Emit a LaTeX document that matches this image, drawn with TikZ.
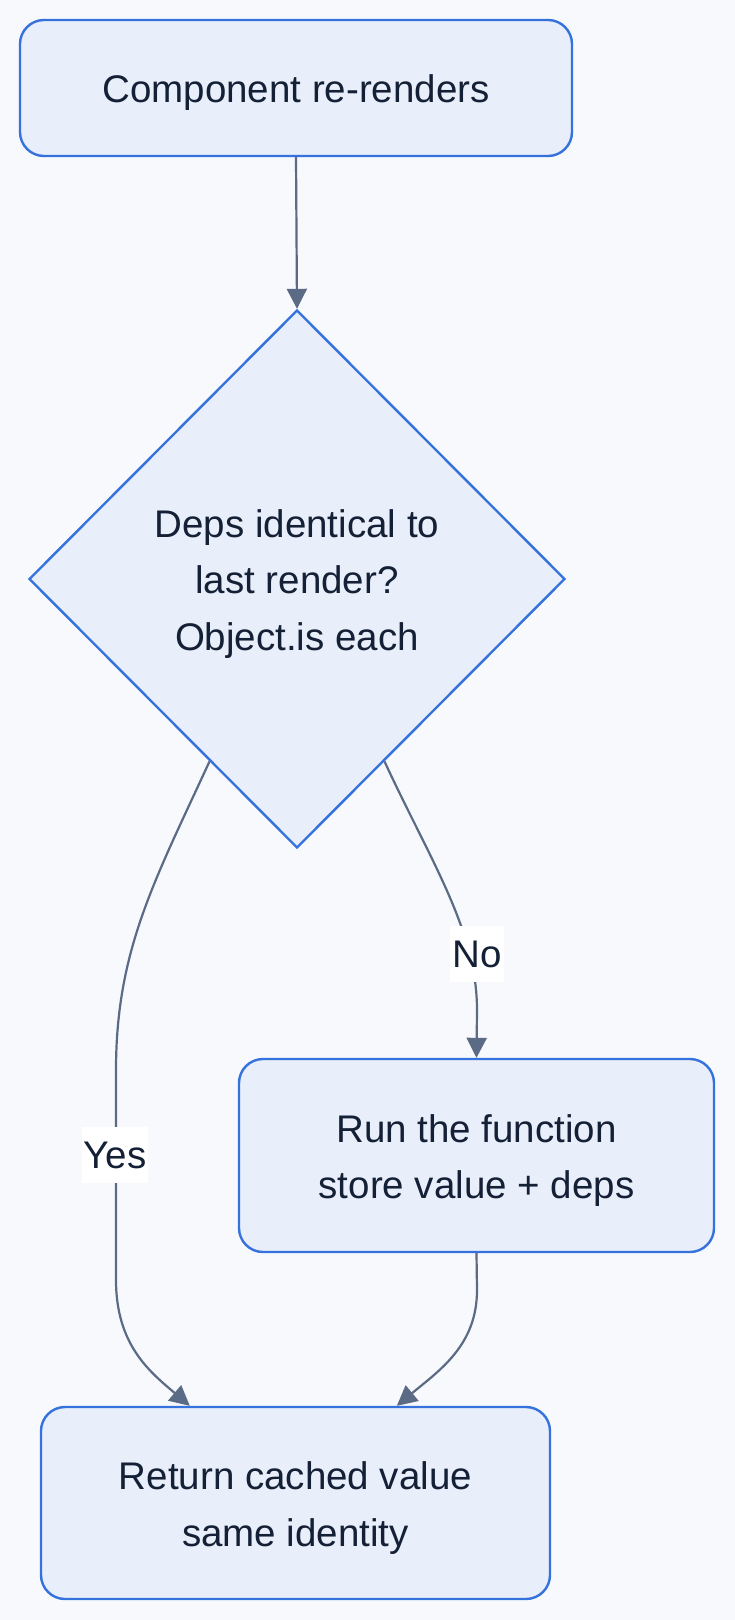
\documentclass[tikz,border=0pt]{standalone}
\usepackage{fontspec}
\setmainfont{Liberation Sans}
\usetikzlibrary{shapes.geometric,arrows.meta,calc}
\definecolor{bg}{HTML}{F7F9FC}
\definecolor{nodefill}{HTML}{E8EEFA}
\definecolor{nodeborder}{HTML}{3572DD}
\definecolor{edgecol}{HTML}{5B6B86}
\definecolor{txt}{HTML}{142035}
\tikzset{
  x=1pt, y=-1pt,
  boxnode/.style={rectangle, rounded corners=24pt, draw=nodeborder, line width=2.4pt, fill=nodefill, inner sep=0pt},
  decnode/.style={diamond, aspect=1, draw=nodeborder, line width=2.4pt, fill=nodefill, inner sep=0pt},
  nodetext/.style={text=txt, align=center, inner sep=0pt, font=\fontsize{38.5}{56.5}\selectfont},
  edge/.style={draw=edgecol, line width=2.2pt, -{Triangle[length=20pt,width=20pt]}},
  lbl/.style={fill=white, text=txt, font=\fontsize{38.5}{42}\selectfont, inner sep=2pt, minimum height=56pt}
}
\begin{document}
\begin{tikzpicture}
\fill[bg] (0,0) rectangle (735,1620);
\useasboundingbox (0,0) rectangle (735,1620);

\node[boxnode, minimum width=552pt, minimum height=136pt] (start) at (296,88) {};
\node[decnode, minimum width=536pt, minimum height=538pt] (dec) at (297,579) {};
\node[boxnode, minimum width=475pt, minimum height=193pt] (run) at (476.5,1155.5) {};
\node[boxnode, minimum width=509pt, minimum height=192pt] (ret) at (295.5,1503) {};

\node[nodetext] (startT) at ($(start.center)+(0,5)$) {Component re-renders};
\node[nodetext] (decT) at ($(dec.center)+(0,5)$) {Deps identical to\\last render?\\Object.is each};
\node[nodetext] (runT) at ($(run.center)+(0,5)$) {Run the function\\store value + deps};
\node[nodetext] (retT) at ($(ret.center)+(0,5)$) {Return cached value\\same identity};

\draw[edge] (start.south) -- (dec.north);

\coordinate (yesA) at ($(dec.west)!0.675!(dec.south)$);
\coordinate (noA) at ($(dec.east)!0.675!(dec.south)$);
\coordinate (yesB) at ($(ret.north west)+(150,0)$);
\coordinate (noB) at ($(ret.north west)+(357,0)$);

\draw[edge] (yesA) .. controls (155,880) and (116,950) .. (116,1070)
  -- (116,1280) .. controls (116,1345) and (150,1372) .. (yesB);
\draw[edge] (noA) .. controls (430,860) and (477,930) .. (477,1010) -- (run.north);
\draw[edge] (run.south) -- (477,1290) .. controls (477,1345) and (440,1370) .. (noB);

\node[lbl] (yeslbl) at (115,1155) {Yes};
\node[lbl] (nolbl) at (477,954) {No};
\end{tikzpicture}
\end{document}
